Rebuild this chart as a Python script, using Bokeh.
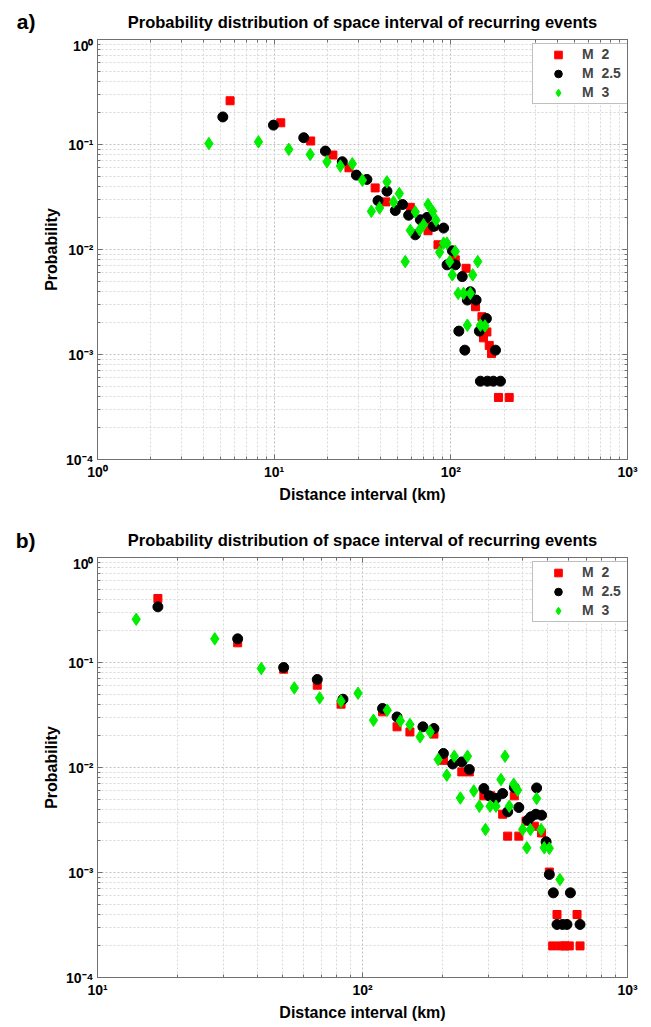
from bokeh.plotting import figure
from bokeh.models import (FixedTicker, LogAxis, Legend, LegendItem, Range1d,
                          CustomJSTickFormatter, ColumnDataSource)
from bokeh.core.properties import value
from bokeh.layouts import column
from bokeh.embed import file_html
from bokeh.resources import INLINE

# ---------------- data: panel a ----------------
a_m2_x = [5.63, 10.9, 16.1, 21.5, 26.5, 37.3, 42.9, 59.0, 71.7, 79.9, 74.3, 84.6, 106, 122,
          138, 150, 160, 153, 165, 170, 186, 214]
a_m2_y = [0.261, 0.161, 0.108, 0.0794, 0.0600, 0.0386, 0.0284, 0.0252, 0.0179, 0.0166, 0.0151,
          0.0111, 0.00797, 0.00662, 0.00285, 0.00229, 0.00164, 0.00144, 0.00122, 0.00102,
          0.00039, 0.00039]

a_m25_x = [5.12, 9.91, 14.7, 19.5, 24.3, 29.2, 33.5, 43.5, 38.7, 53.3, 48.5, 57.7, 67.2, 73.3,
           79.9, 91.0, 62.9, 102, 95.2, 106, 116, 129, 124, 139, 159, 111, 145, 179, 120,
           147, 161, 174, 191]
a_m25_y = [0.183, 0.153, 0.116, 0.0866, 0.0685, 0.0511, 0.0465, 0.0359, 0.0292, 0.0268, 0.0235,
           0.0212, 0.0192, 0.0202, 0.0166, 0.0160, 0.0138, 0.00972, 0.00714, 0.00714, 0.00552,
           0.00396, 0.00330, 0.00330, 0.00220, 0.00167, 0.00167, 0.00110, 0.00110,
           0.000557, 0.000557, 0.000557, 0.000557]

a_m3_x = [4.27, 8.15, 12.1, 16.0, 19.9, 23.7, 27.7, 31.6, 35.5, 39.5, 43.5, 47.4, 51.1, 62.9,
          74.3, 78.9, 82.4, 59.0, 66.6, 70.1, 55.2, 91.0, 95.1, 86.4, 106, 98.5, 102, 133, 142,
          110, 118, 129, 124, 147, 156]
a_m3_y = [0.102, 0.106, 0.0899, 0.0805, 0.0685, 0.0623, 0.0655, 0.0457, 0.0231, 0.0249, 0.0441,
          0.0284, 0.0341, 0.0228, 0.0268, 0.0231, 0.0190, 0.0152, 0.0154, 0.0172, 0.00767,
          0.0115, 0.0115, 0.00942, 0.00957, 0.00767, 0.00573, 0.00573, 0.00767, 0.00382,
          0.00382, 0.00382, 0.00190, 0.00190, 0.00187]

# ---------------- data: panel b ----------------
b_m2_x = [16.9, 33.8, 50.4, 67.5, 83.0, 119, 135, 151, 186, 202, 237, 253, 287, 305, 338, 374,
          353, 389, 414, 445, 474, 507, 542, 645, 522, 561, 581, 603, 662]
b_m2_y = [0.407, 0.154, 0.0863, 0.0608, 0.0401, 0.0339, 0.0244, 0.0218, 0.0208, 0.0117, 0.00908,
          0.00908, 0.00537, 0.00537, 0.00359, 0.00537, 0.00222, 0.00222, 0.00308, 0.00276,
          0.00238, 0.00101, 0.000398, 0.000398, 0.0002, 0.0002, 0.0002, 0.0002, 0.0002]

b_m25_x = [16.9, 33.8, 50.4, 67.5, 84.4, 119, 135, 169, 186, 202, 219, 237, 253, 287, 301, 319,
           338, 374, 353, 389, 420, 432, 451, 474, 454, 493, 507, 525, 609, 542, 569, 591, 662]
b_m25_y = [0.339, 0.168, 0.0896, 0.0689, 0.0447, 0.0365, 0.0303, 0.0244, 0.0235, 0.0136, 0.0108,
           0.0113, 0.00957, 0.0063, 0.00537, 0.00507, 0.00565, 0.00645, 0.00378, 0.00416,
           0.00315, 0.00339, 0.00359, 0.00351, 0.00639, 0.00196, 0.000957, 0.00064, 0.00064,
           0.00032, 0.00032, 0.00032, 0.00032]

b_m3_x = [14.0, 27.7, 41.5, 55.3, 68.9, 83.0, 96.2, 110, 124, 139, 151, 165, 180, 193, 208, 222,
          249, 234, 263, 276, 291, 303, 319, 333, 345, 358, 372, 385, 402, 417, 430, 454, 472,
          485, 507, 556]
b_m3_y = [0.258, 0.168, 0.0877, 0.0573, 0.0460, 0.0428, 0.051, 0.0282, 0.0351, 0.0278, 0.0257,
          0.0196, 0.0218, 0.0119, 0.00845, 0.0128, 0.0128, 0.00513, 0.00598, 0.00428, 0.00257,
          0.00428, 0.00428, 0.00769, 0.0128, 0.00428, 0.00693, 0.00608, 0.00257, 0.00172,
          0.00257, 0.00507, 0.00257, 0.00172, 0.0017, 0.000857]

# ---------------- ticks / labels ----------------
x_ticks_a = [1, 10, 100, 1000]
x_labels_a = ["10\u2070", "10\u00b9", "10\u00b2", "10\u00b3"]
x_ticks_b = [10, 100, 1000]
x_labels_b = ["10\u00b9", "10\u00b2", "10\u00b3"]
y_ticks = [1e-4, 1e-3, 1e-2, 1e-1, 1]
y_labels = ["10\u207b\u2074", "10\u207b\u00b3", "10\u207b\u00b2", "10\u207b\u00b9", "10\u2070"]
legend_labels = ["M  2", "M  2.5", "M  3"]
title_text = "Probability distribution of space interval of recurring events"
x_title = "Distance interval (km)"
y_title = "Probability"

FONT = "Liberation Sans"
AXC = "#707070"
LB, FW, RB = 97, 530, 24   # left border, frame width, right border


def minors(ticks):
    out = []
    for t in ticks[:-1]:
        for m in range(2, 10):
            out.append(m * t)
    return out


def style_axis(ax):
    ax.major_tick_in = 5
    ax.major_tick_out = 0
    ax.minor_tick_in = 3
    ax.minor_tick_out = 0
    ax.axis_line_color = AXC
    ax.major_tick_line_color = AXC
    ax.minor_tick_line_color = AXC
    ax.major_label_text_font = FONT
    ax.major_label_text_font_style = "bold"
    ax.major_label_text_font_size = "14px"
    ax.major_label_text_color = "black"
    ax.axis_label_text_font = FONT
    ax.axis_label_text_font_style = "bold"
    ax.axis_label_text_font_size = "16px"
    ax.axis_label_text_color = "black"


def make_header(letter, h, pad_top):
    # frame spans canvas rows [pad_top, h]; data coordinates equal canvas pixels
    hd = figure(x_range=Range1d(LB, LB + FW), y_range=Range1d(h, pad_top),
                frame_width=FW, frame_height=h - pad_top,
                min_border_left=LB, min_border_right=RB,
                min_border_top=pad_top, min_border_bottom=0,
                x_axis_location=None, y_axis_location="left",
                output_backend="svg", toolbar_location=None)
    hd.grid.visible = False
    hd.outline_line_color = None
    ax = hd.yaxis[0]
    ax.formatter = CustomJSTickFormatter(code="return ''")
    ax.ticker = FixedTicker(ticks=[])
    ax.axis_line_color = None
    ax.major_tick_line_color = None
    ax.minor_tick_line_color = None
    ax.major_tick_out = 0
    ax.minor_tick_out = 0
    ax.major_label_standoff = 0
    ax.major_label_text_font_size = "0px"
    ax.axis_label = letter
    ax.axis_label_orientation = "horizontal"
    ax.axis_label_text_font = FONT
    ax.axis_label_text_font_style = "bold"
    ax.axis_label_text_font_size = "21px"
    ax.axis_label_text_color = "black"
    ax.axis_label_standoff = 62
    yc = (h + pad_top) / 2.0
    hd.text(x=[LB + FW / 2.0], y=[yc], text=[title_text], text_font=value(FONT),
            text_font_style="bold", text_font_size="16.5px", text_baseline="middle",
            text_align="center", text_color="black")
    return hd


def make_panel(xr, x_ticks, x_labels, series, top, bottom):
    p = figure(x_axis_type="log", y_axis_type="log",
               x_range=Range1d(*xr), y_range=Range1d(1e-4, 1),
               frame_width=FW, frame_height=420,
               min_border_left=LB, min_border_right=RB,
               min_border_top=top, min_border_bottom=bottom,
               output_backend="svg", toolbar_location=None)
    p.outline_line_color = AXC
    xt = FixedTicker(ticks=x_ticks, minor_ticks=minors(x_ticks))
    yt = FixedTicker(ticks=y_ticks, minor_ticks=minors(y_ticks))
    p.xaxis.ticker = xt
    p.yaxis.ticker = yt
    p.xaxis.major_label_overrides = dict(zip(x_ticks, x_labels))
    p.yaxis.major_label_overrides = dict(zip(y_ticks, y_labels))
    p.xaxis.axis_label = x_title
    p.yaxis.axis_label = y_title
    for ax in p.xaxis + p.yaxis:
        style_axis(ax)
    p.xaxis.major_label_standoff = 4
    p.xaxis.axis_label_standoff = 3
    p.yaxis.major_label_standoff = 4
    p.yaxis.axis_label_standoff = 3

    for loc, tk in (("right", yt), ("above", xt)):
        ax = LogAxis(ticker=tk, formatter=CustomJSTickFormatter(code="return ''"),
                     major_label_standoff=0)
        style_axis(ax)
        ax.major_label_text_font_size = "0px"
        p.add_layout(ax, loc)

    for g in (p.xgrid, p.ygrid):
        g.grid_line_color = "#c0c0c0"
        g.grid_line_dash = "2 2"
        g.minor_grid_line_color = "#d8d8d8"
        g.minor_grid_line_dash = "2 2"

    rends = []
    for (xs, ys, marker, size, color) in series:
        src = ColumnDataSource(dict(x=xs, y=ys))
        r = p.scatter("x", "y", source=src, marker=marker, size=size,
                      fill_color=color, line_color=color)
        rends.append(r)

    leg = Legend(items=[LegendItem(label=l, renderers=[r]) for l, r in zip(legend_labels, rends)],
                 location=(435, 420 - 5.5 - 59), padding=1, spacing=0, margin=0,
                 glyph_width=48, glyph_height=19, label_height=19, label_standoff=0,
                 label_width=45, label_text_font=FONT, label_text_font_style="bold",
                 label_text_font_size="14px", border_line_color="#808080",
                 border_line_width=1, background_fill_alpha=1.0)
    p.add_layout(leg)
    return p


series_a = [(a_m2_x, a_m2_y, "square", 8, "#ff0000"),
            (a_m25_x, a_m25_y, "circle", 10, "#000000"),
            (a_m3_x, a_m3_y, "diamond", 12.5, "#00ee00")]
series_b = [(b_m2_x, b_m2_y, "square", 8, "#ff0000"),
            (b_m25_x, b_m25_y, "circle", 10, "#000000"),
            (b_m3_x, b_m3_y, "diamond", 12.5, "#00ee00")]

ha = make_header("a)", 37, 5)
pa = make_panel((1, 1000), x_ticks_a, x_labels_a, series_a, 2, 60)
hb = make_header("b)", 36, 5)
pb = make_panel((10, 1000), x_ticks_b, x_labels_b, series_b, 2, 50)

layout = column(ha, pa, hb, pb, spacing=0)
open("out.html", "w").write(file_html(layout, INLINE))
